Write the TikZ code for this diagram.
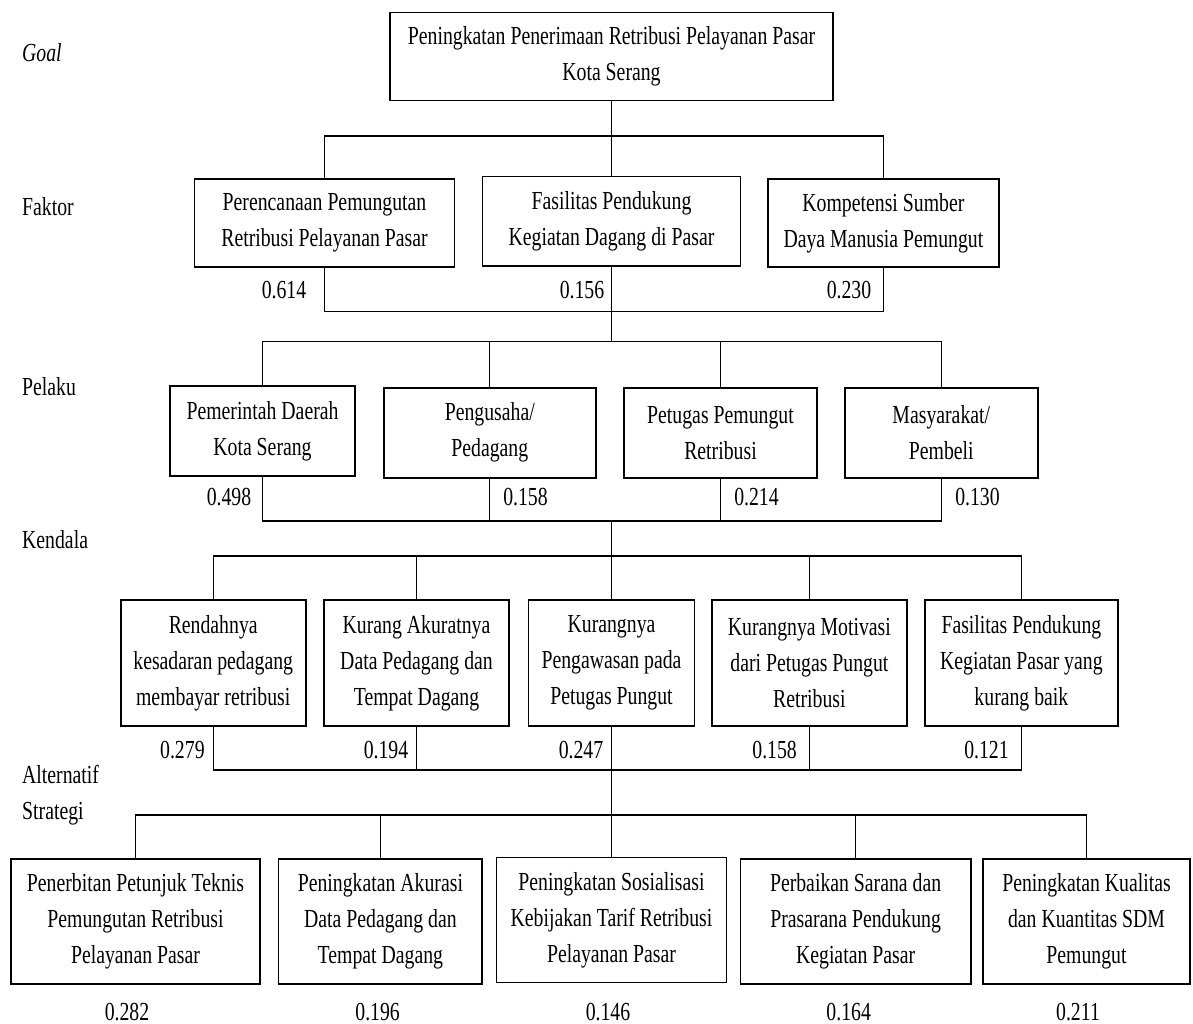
\documentclass[tikz,border=0pt]{standalone}
\usepackage{fontspec}
\setmainfont[FakeStretch=0.76]{Liberation Serif}
\begin{document}
\begin{tikzpicture}[x=1pt,y=-1pt,
  font=\fontsize{26}{36}\selectfont,
  box/.style={draw, line width=1.6pt, align=center, inner sep=0pt},
  val/.style={inner sep=0pt},
  lvl/.style={anchor=west, align=left, inner sep=0pt},
  conn/.style={line width=1.3pt}]
\useasboundingbox (0,0) rectangle (1193,1024);
% level labels
\node[lvl] (lgoal) at (22,53) {\textit{Goal}};
\node[lvl] (lfak) at (22,207) {Faktor};
\node[lvl] (lpel) at (22,387) {Pelaku};
\node[lvl] (lken) at (22,540) {Kendala};
\node[lvl] (lalt) at (22,795) {Alternatif\\Strategi};
% goal
\node[box, minimum width=443pt, minimum height=88pt] (goal) at (611.5,56.5) {Peningkatan Penerimaan Retribusi Pelayanan Pasar\\Kota Serang};
% faktor
\node[box, minimum width=260pt, minimum height=88pt] (f1) at (324.5,223) {Perencanaan Pemungutan\\Retribusi Pelayanan Pasar};
\node[box, minimum width=258pt, minimum height=89pt] (f2) at (611.5,221.2) {Fasilitas Pendukung\\Kegiatan Dagang di Pasar};
\node[box, minimum width=231pt, minimum height=88pt] (f3) at (883.4,223) {Kompetensi Sumber\\Daya Manusia Pemungut};
\node[val] (vf1) at (284,290) {0.614};
\node[val] (vf2) at (582,290) {0.156};
\node[val] (vf3) at (849,290) {0.230};
% pelaku
\node[box, minimum width=185pt, minimum height=90pt] (p1) at (262.5,431) {Pemerintah Daerah\\Kota Serang};
\node[box, minimum width=212pt, minimum height=90pt] (p2) at (489.8,432.7) {Pengusaha/\\Pedagang};
\node[box, minimum width=193pt, minimum height=90pt] (p3) at (720.5,432.7) {Petugas Pemungut\\Retribusi};
\node[box, minimum width=193pt, minimum height=90pt] (p4) at (941.3,432.7) {Masyarakat/\\Pembeli};
\node[val] (vp1) at (229,497) {0.498};
\node[val] (vp2) at (525.5,497) {0.158};
\node[val] (vp3) at (756.5,497) {0.214};
\node[val] (vp4) at (977.5,497) {0.130};
% kendala
\node[box, minimum width=185pt, minimum height=126pt] (k1) at (213.2,663) {Rendahnya\\kesadaran pedagang\\membayar retribusi};
\node[box, minimum width=185pt, minimum height=126pt] (k2) at (416.5,663) {Kurang Akuratnya\\Data Pedagang dan\\Tempat Dagang};
\node[box, minimum width=166pt, minimum height=126pt] (k3) at (611.5,663) {Kurangnya\\Pengawasan pada\\Petugas Pungut};
\node[box, minimum width=195pt, minimum height=126pt] (k4) at (809.4,663) {Kurangnya Motivasi\\dari Petugas Pungut\\Retribusi};
\node[box, minimum width=193pt, minimum height=126pt] (k5) at (1021.4,663) {Fasilitas Pendukung\\Kegiatan Pasar yang\\kurang baik};
\node[val] (vk1) at (182.4,750) {0.279};
\node[val] (vk2) at (386,750) {0.194};
\node[val] (vk3) at (581,750) {0.247};
\node[val] (vk4) at (774.6,750) {0.158};
\node[val] (vk5) at (986.5,750) {0.121};
% alternatif
\node[box, minimum width=249.5pt, minimum height=125pt] (a1) at (135.5,921.5) {Penerbitan Petunjuk Teknis\\Pemungutan Retribusi\\Pelayanan Pasar};
\node[box, minimum width=203.6pt, minimum height=125pt] (a2) at (380.4,921.5) {Peningkatan Akurasi\\Data Pedagang dan\\Tempat Dagang};
\node[box, minimum width=230pt, minimum height=125pt] (a3) at (611.5,920) {Peningkatan Sosialisasi\\Kebijakan Tarif Retribusi\\Pelayanan Pasar};
\node[box, minimum width=230.4pt, minimum height=125pt] (a4) at (855.6,921.5) {Perbaikan Sarana dan\\Prasarana Pendukung\\Kegiatan Pasar};
\node[box, minimum width=207pt, minimum height=125pt] (a5) at (1086.5,921.5) {Peningkatan Kualitas\\dan Kuantitas SDM\\Pemungut};
\node[val] (va1) at (127,1012) {0.282};
\node[val] (va2) at (377.6,1012) {0.196};
\node[val] (va3) at (608,1012) {0.146};
\node[val] (va4) at (848.7,1012) {0.164};
\node[val] (va5) at (1078,1012) {0.211};
% bus coordinates
\coordinate (b1) at (611.5,136);
\coordinate (b2) at (611.5,311.7);
\coordinate (b3) at (611.5,341.7);
\coordinate (b4) at (611.5,521);
\coordinate (b5) at (611.5,556);
\coordinate (b6) at (611.5,770);
\coordinate (b7) at (611.5,815);
% connectors
\draw[conn] (goal.south) -- (f2.north);
\draw[conn] (f1.north) |- (b1) -| (f3.north);
\draw[conn] (f1.south) |- (b2) -| (f3.south);
\draw[conn] (f2.south) -- (b3);
\draw[conn] (p1.north) |- (b3) -| (p4.north);
\draw[conn] (p2.north) -- (p2.north |- b3);
\draw[conn] (p3.north) -- (p3.north |- b3);
\draw[conn] (p1.south) |- (b4) -| (p4.south);
\draw[conn] (p2.south) -- (p2.south |- b4);
\draw[conn] (p3.south) -- (p3.south |- b4);
\draw[conn] (b4) -- (k3.north);
\draw[conn] (k1.north) |- (b5) -| (k5.north);
\draw[conn] (k2.north) -- (k2.north |- b5);
\draw[conn] (k4.north) -- (k4.north |- b5);
\draw[conn] (k1.south) |- (b6) -| (k5.south);
\draw[conn] (k2.south) -- (k2.south |- b6);
\draw[conn] (k4.south) -- (k4.south |- b6);
\draw[conn] (k3.south) -- (a3.north);
\draw[conn] (a1.north) |- (b7) -| (a5.north);
\draw[conn] (a2.north) -- (a2.north |- b7);
\draw[conn] (a4.north) -- (a4.north |- b7);
\end{tikzpicture}
\end{document}
